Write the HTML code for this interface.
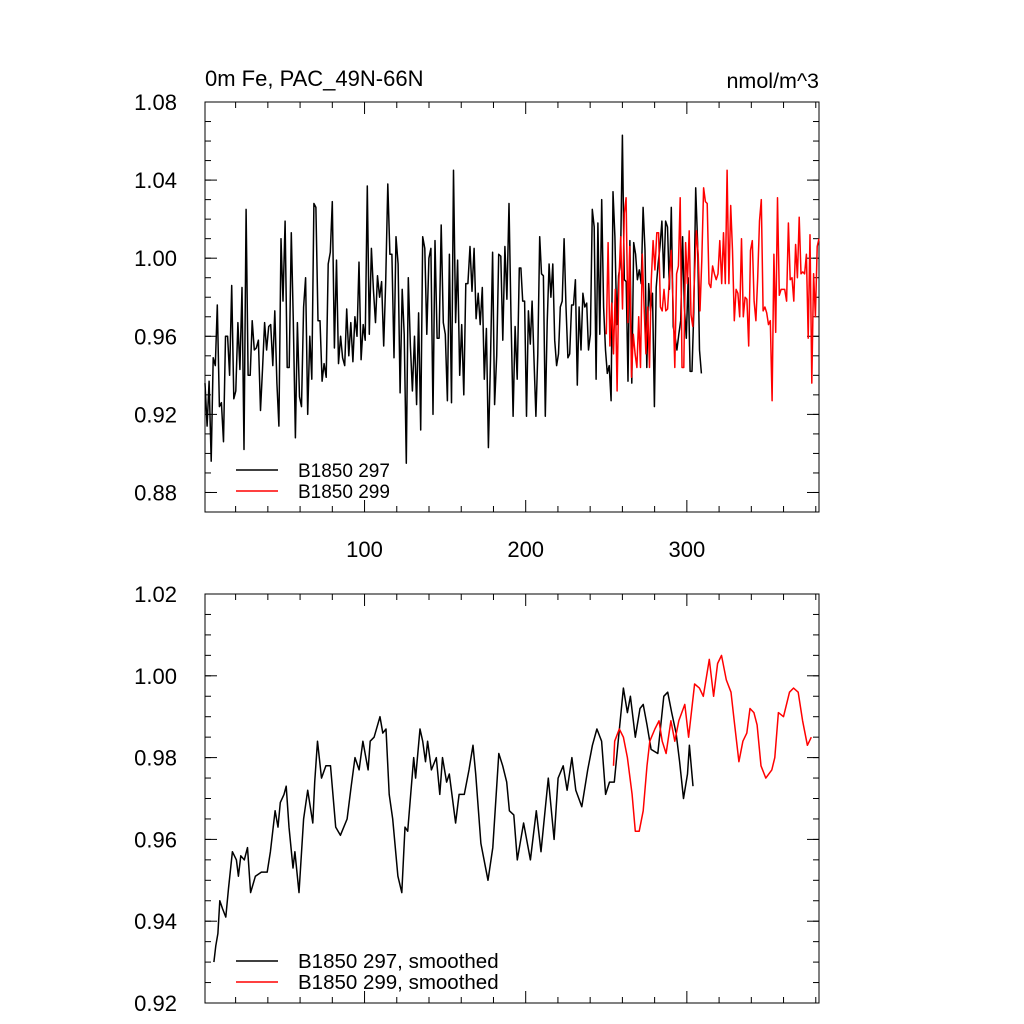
<!DOCTYPE html>
<html><head><meta charset="utf-8"><style>
html,body{margin:0;padding:0;background:#fff;}
svg{display:block;font-family:"Liberation Sans",sans-serif;}
</style></head><body>
<svg id="chart" width="1024" height="1024" viewBox="0 0 1024 1024"></svg>
<script>
// ---- data ----
const rawBlackA = [.936,.914,.937,.896,.949,.945,.976,.924,.926,.906,.960,.960,.940,.986,.928,.932,.967,.943,.985,.902,1.025,.940,.940,.968,.953,.954,.958,.922,.943,.967,.953,.965,.966,.945,.973,.936,.914,1.010,.978,1.019,.944,.944,1.013,.968,.908,.967,.929,.924,.975,.990,.920,.960,.938,1.028,1.026,.968,.968,.937,.946,.939,.997,1.003,1.029,.954,.999,.946,.960,.949,.945,.974,.950,.967,.947,.970,.960,.998,.948,.966,.958,1.037,.961,1.005,.984,.967,.991,.980,.988,.955,.988,1.038,1.002,1.002,.949,1.011,.997,.931,.984,.961,.895,.990,.955,.932,.960,.925,.972,.912,1.011,1.005,.961,1.000,1.005,.920,1.009,.959,.959,1.017,.967,.961,.927,1.002,.926,1.045,.967,.999,.940,.966,.930,.987,.987,1.006,.983,1.005,.969,.982,.966,.985,.938,.964,.903,.948,1.003,.925,.950,1.002,1.001,.958,1.006,.979,1.028,.970,.919,.965,.938,.995];
const rawBlackARange = [1, 196];
const rawBlackB = [.995,.978,.978,.919,.973,.956,.978,.948,.919,.951,1.011,.992,.991,.919,.967,.997,.980,.997,.958,.945,.951,.975,.978,1.010,.975,.949,.951,.976,.976,.989,.935,.975,.953,.982,.975,.977,.953,.961,1.025,1.016,.938,1.018,.961,1.030,.975,.953,.941,.945,.927,1.034,1.011,.966,.991,.998,1.063,.989,.988,.937,1.009,.936,1.008,1.002,.989,.994,.987,1.026,1.004,.944,.987,.973,.982,.924,.985,.997,1.006,1.019,.990,1.019,1.016,.984,1.026,.965,.960,.953,.961,.968,1.011,.975,.959,.990,.942,.942,.973,1.036,1.008,.953,.941];
const rawBlackBRange = [197, 309];
const rawRed = [.961,1.008,.955,.977,.951,.984,.932,.989,1.011,.974,1.023,1.031,.967,1.006,.939,.961,.951,.944,.970,.944,1.002,.975,.951,.975,.944,.989,1.009,.994,1.013,1.013,.975,.973,.984,.973,.974,.990,1.004,.978,.944,.992,.996,1.031,.944,.944,1.008,.987,1.014,.971,.965,.992,1.014,1.002,.973,.999,1.036,1.029,1.028,.987,.985,.996,.992,.989,.992,1.009,.987,1.013,.987,1.045,.987,1.027,1.004,.968,.984,.982,.970,1.010,.970,.980,.979,.955,1.004,1.009,.978,.968,.990,1.019,1.030,.973,.975,.972,.966,.968,.927,1.002,.962,1.031,.981,.984,.984,.984,.978,1.018,.989,.990,.978,1.007,.990,1.021,.992,.993,.992,1.002,.959,1.012,.936,.992,.970,1.006,1.010];
const rawRedRange = [250, 382];

const smBlackYears = [6.5,7.7,9,10.2,11.9,13.9,15.6,18,20.5,21.7,23.2,25.4,27.4,29.3,32.3,36,39.6,41.6,44.5,46.3,47.7,50,51.4,53.1,55.6,56.8,59.3,62.2,64.7,67.9,69.1,70.8,73.3,76,78.9,82.1,85,89.2,91.7,94.1,96.6,99,102.2,103.5,105.9,109.6,111.3,113.3,115.3,117.5,120.7,123.1,125.1,126.8,130.5,131.7,134.4,136.1,137.8,139.1,141.5,144.5,146.7,148.4,150.9,152.6,156.5,158.7,161.9,164.8,167.3,169,172.2,176.6,179.6,183.3,185.7,188.2,189.9,192.6,194.8,198.7,202.9,206.6,209.5,214,217.6,220.1,223.3,225.7,228.7,231.1,234.8,238.5,241.4,244.2,247.1,249.6,252,255,257.4,260.6,263.1,265,268,270.9,272.9,275.3,277.8,282,285.7,288.1,290.6,293.3,295.5,297.9,300.4,301.6,303.8];
const smBlackVals = [.930,.934,.937,.945,.943,.941,.948,.957,.955,.951,.956,.955,.958,.947,.951,.952,.952,.957,.967,.963,.969,.971,.973,.963,.953,.957,.947,.965,.972,.964,.974,.984,.975,.978,.978,.963,.961,.965,.973,.980,.977,.984,.977,.984,.985,.990,.986,.987,.971,.965,.951,.947,.963,.962,.980,.975,.987,.984,.979,.984,.977,.980,.971,.980,.974,.976,.964,.971,.971,.977,.983,.976,.959,.950,.958,.981,.978,.974,.967,.966,.955,.964,.955,.967,.957,.975,.960,.975,.978,.972,.980,.972,.968,.977,.983,.987,.984,.971,.974,.974,.984,.997,.991,.995,.985,.992,.993,.988,.982,.981,.995,.996,.991,.986,.979,.970,.976,.983,.973];
const smRedYears = [254.5,255.2,258.1,260.6,263.1,266,268,270.4,272.9,275.3,277,280.2,282.7,284.7,287.1,290.1,292.5,295,298.7,301.1,304.8,307.8,310.2,313.9,316.6,319.1,321.5,324.5,327.4,329.4,332.3,334.8,337.2,339.2,341.6,343.6,346,349,352.7,354.6,356.8,360,363.7,366.2,369.1,371.8,374.8,377.2];
const smRedVals = [.978,.984,.987,.985,.980,.971,.962,.962,.967,.978,.984,.987,.989,.984,.981,.989,.984,.989,.993,.985,.998,.997,.995,1.004,.995,1.003,1.005,.999,.996,.989,.979,.984,.986,.992,.991,.988,.978,.975,.977,.980,.991,.990,.996,.997,.996,.989,.983,.985];

const yTicksTop = [0.88,0.92,0.96,1.00,1.04,1.08];
const yTicksBot = [0.92,0.94,0.96,0.98,1.00,1.02];
const xTicks = [100,200,300];

// ---- layout ----
const NS='http://www.w3.org/2000/svg';
const svg=document.getElementById('chart');
const L=205,R=819;
const X0=1,X1=382;
const xs=v=>L+(v-X0)/(X1-X0)*(R-L);
const topP={t:102,b:512,y0:0.87,y1:1.08};
const botP={t:594,b:1003,y0:0.92,y1:1.02};
function ys(p,v){return p.b-(v-p.y0)/(p.y1-p.y0)*(p.b-p.t);}
function mk(tag,attrs,parent){const e=document.createElementNS(NS,tag);for(const k in attrs)e.setAttribute(k,attrs[k]);(parent||svg).appendChild(e);return e;}
function linspace(r,n){const a=[];for(let i=0;i<n;i++)a.push(r[0]+(r[1]-r[0])*i/(n-1));return a;}
function pathFrom(p,xsArr,vals){return vals.map((v,i)=>(i?'L':'M')+xs(xsArr[i]).toFixed(1)+' '+ys(p,v).toFixed(1)).join(' ');}

function drawAxes(p,yt,minorStep,name,showX){
  const g=mk('g',{});
  
  
  mk('rect',{x:L,y:p.t,width:R-L,height:p.b-p.t,fill:'none',stroke:'#000','stroke-width':1},g);
  for(let v=p.y0;v<=p.y1+1e-9;v+=minorStep){
    const y=ys(p,v);
    mk('line',{x1:L,x2:L+6,y1:y,y2:y,stroke:'#000'},g);
    mk('line',{x1:R,x2:R-6,y1:y,y2:y,stroke:'#000'},g);
  }
  yt.forEach(v=>{
    const y=ys(p,v);
    mk('line',{x1:L,x2:L+12,y1:y,y2:y,stroke:'#000'},g);
    mk('line',{x1:R,x2:R-12,y1:y,y2:y,stroke:'#000'},g);
    const t=mk('text',{x:177,y:y+8,'text-anchor':'end','font-size':22},g);
    
    
    t.textContent=v.toFixed(2);
  });
  for(let v=20;v<X1;v+=20){
    const x=xs(v);const big=v%100===0;const len=big?12:6;
    mk('line',{x1:x,x2:x,y1:p.b,y2:p.b-len,stroke:'#000'},g);
    mk('line',{x1:x,x2:x,y1:p.t,y2:p.t+len,stroke:'#000'},g);
  }
  if(showX){xTicks.forEach(v=>{
    const t=mk('text',{x:xs(v),y:p.b+45,'text-anchor':'middle','font-size':22},g);
    
    
    t.textContent=v;
  });}
}
drawAxes(topP,yTicksTop,0.01,'top-panel',true);
drawAxes(botP,yTicksBot,0.005,'bottom-panel',false);

function series(p,xa,va,color,name){
  const e=mk('path',{d:pathFrom(p,xa,va),fill:'none',stroke:color,'stroke-width':1.5,'stroke-linejoin':'round'});
  
  
}
series(topP,linspace(rawBlackARange,rawBlackA.length).concat(linspace(rawBlackBRange,rawBlackB.length)),rawBlackA.concat(rawBlackB),'#000','b1850-297-line');
series(topP,linspace(rawRedRange,rawRed.length),rawRed,'#f00','b1850-299-line');
series(botP,smBlackYears,smBlackVals,'#000','b1850-297-smoothed-line');
series(botP,smRedYears,smRedVals,'#f00','b1850-299-smoothed-line');

function legend(y,color,label,name,fs){
  const g=mk('g',{});
  
  
  mk('line',{x1:236,x2:278,y1:y,y2:y,stroke:color,'stroke-width':1.5},g);
  const t=mk('text',{x:298,y:y+7,'font-size':fs},g);t.textContent=label;
}
legend(470,'#000','B1850 297','legend-entry-297',19);
legend(491,'#f00','B1850 299','legend-entry-299',19);
legend(961,'#000','B1850 297, smoothed','legend-entry-297-smoothed',20.5);
legend(982,'#f00','B1850 299, smoothed','legend-entry-299-smoothed',20.5);

const t1=mk('text',{x:205,y:86,'font-size':22});


t1.textContent='0m Fe, PAC_49N-66N';
const t2=mk('text',{x:819,y:88,'font-size':21.5,'text-anchor':'end'});


t2.textContent='nmol/m^3';
</script>
</body></html>
